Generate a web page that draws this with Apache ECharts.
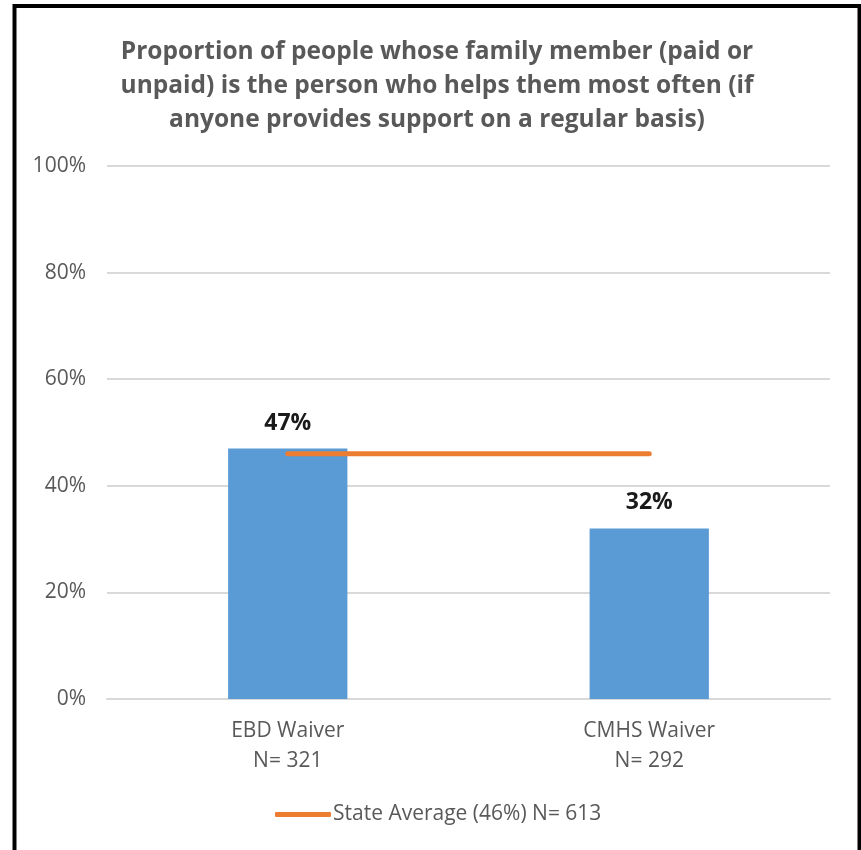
<!DOCTYPE html>
<html>
<head>
<meta charset="utf-8">
<script src="https://cdn.jsdelivr.net/npm/echarts@6/dist/echarts.min.js"></script>
<style>
  html, body { margin: 0; padding: 0; background: #fff; }
  #chart { width: 861px; height: 850px; }
</style>
</head>
<body>
<div id="chart"></div>
<script>
// Chart data
const categories = ['EBD Waiver\nN= 321', 'CMHS Waiver\nN= 292'];
const waiverValues = [47, 32];
const stateAverageName = 'State Average (46%) N= 613';
const stateAverageValues = [46, 46];
const yTicks = { min: 0, max: 100, interval: 20 };

const FONT = '"Open Sans", sans-serif';
const GREY = '#595959';

const chart = echarts.init(document.getElementById('chart'), null, { renderer: 'canvas' });

chart.setOption({
  backgroundColor: '#ffffff',
  animation: false,
  title: {
    text: 'Proportion of people whose family member (paid or\nunpaid) is the person who helps them most often (if\nanyone provides support on a regular basis)',
    left: 432,
    textAlign: 'center',
    top: 30,
    textStyle: {
      fontFamily: FONT,
      fontWeight: 'bold',
      fontSize: 24.5,
      lineHeight: 34,
      color: GREY
    }
  },
  legend: {
    data: [{ name: stateAverageName, icon: 'roundRect' }],
    left: 270,
    top: 799,
    itemWidth: 56,
    itemHeight: 5,
    itemGap: 4,
    textStyle: { fontFamily: FONT, fontSize: 21, color: GREY, padding: [0, 0, 0, -3] }
  },
  grid: { left: 107, right: 31, top: 166, bottom: 151 },
  xAxis: {
    type: 'category',
    data: categories,
    axisLine: { lineStyle: { color: '#D9D9D9', width: 2 } },
    axisTick: { show: false },
    axisLabel: {
      fontFamily: FONT,
      fontSize: 21,
      lineHeight: 30,
      color: GREY,
      margin: 17
    }
  },
  yAxis: {
    type: 'value',
    min: yTicks.min,
    max: yTicks.max,
    interval: yTicks.interval,
    axisLine: { show: false },
    axisTick: { show: false },
    splitLine: { lineStyle: { color: '#D9D9D9', width: 2 } },
    axisLabel: {
      fontFamily: FONT,
      fontSize: 21,
      color: GREY,
      margin: 21,
      formatter: v => v + '%'
    }
  },
  series: [
    {
      name: 'Waiver',
      type: 'bar',
      data: waiverValues,
      barWidth: '33%',
      itemStyle: { color: '#5B9BD5' },
      label: {
        show: true,
        position: 'top',
        distance: 10,
        formatter: p => p.value + '%',
        fontFamily: FONT,
        fontWeight: 'bold',
        fontSize: 23,
        color: '#1a1a1a',
        backgroundColor: '#ffffff',
        padding: [4, 8]
      },
      z: 2
    },
    {
      name: stateAverageName,
      type: 'line',
      data: stateAverageValues,
      symbol: 'none',
      lineStyle: { color: '#ED7D31', width: 5, cap: 'round' },
      itemStyle: { color: '#ED7D31' },
      z: 3
    }
  ],
  graphic: [
    {
      type: 'rect',
      silent: true,
      shape: { x: 14.5, y: 6, width: 845, height: 860 },
      style: { fill: null, stroke: '#000000', lineWidth: 4 },
      z: 100
    }
  ]
});
</script>
</body>
</html>
